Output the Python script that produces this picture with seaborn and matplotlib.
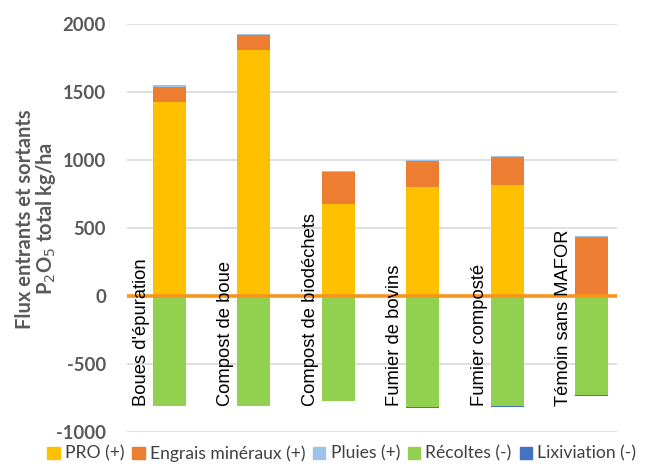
import numpy as np
import pandas as pd
import matplotlib
matplotlib.use("Agg")
import matplotlib.pyplot as plt
import seaborn as sns
from matplotlib.patches import Patch

# Data (kg P2O5 / ha)
categories = ["Boues d'épuration", "Compost de boue", "Compost de biodéchets",
              "Fumier de bovins", "Fumier composté", "Témoin sans MAFOR"]
pro = [1430, 1810, 676, 805, 815, 0]
engrais = [110, 110, 236, 190, 205, 433]
pluies = [8, 8, 8, 8, 8, 8]
recoltes = [-810, -810, -770, -818, -812, -730]
lixiviation = [-2, -2, -2, -2, -2, -2]

colors = {"PRO (+)": "#FFC000", "Engrais minéraux (+)": "#ED7D31",
          "Pluies (+)": "#9DC3E6", "Récoltes (-)": "#92D050",
          "Lixiviation (-)": "#4472C4"}

sns.set_style("white")
plt.rcParams['font.family'] = ['Lato', 'DejaVu Sans']
plt.rcParams['axes.unicode_minus'] = False

df = pd.DataFrame({"cat": categories, "pro": pro, "engrais": engrais,
                   "pluies": pluies, "recoltes": recoltes, "lix": lixiviation})
df["b_engrais"] = df["pro"]
df["b_pluies"] = df["pro"] + df["engrais"]

fig = plt.figure(figsize=(6.51, 4.71), dpi=100)
ax = fig.add_axes([0.195, 0.0828, 0.753, 0.8662])

w = 0.39
kw = dict(width=w, saturation=1, ax=ax, zorder=3, linewidth=0)
sns.barplot(data=df, x="cat", y="pro", color=colors["PRO (+)"], **kw)
sns.barplot(data=df, x="cat", y="engrais", bottom=df["b_engrais"],
            color=colors["Engrais minéraux (+)"], **kw)
sns.barplot(data=df, x="cat", y="pluies", bottom=df["b_pluies"],
            color=colors["Pluies (+)"], **kw)
sns.barplot(data=df, x="cat", y="recoltes", color=colors["Récoltes (-)"], **kw)
sns.barplot(data=df, x="cat", y="lix", bottom=df["recoltes"],
            color=colors["Lixiviation (-)"], **kw)

ax.axhline(0, color="#F7941D", lw=2.6, zorder=4)

# category names written vertically beside each bar
for i, name in enumerate(categories):
    ax.text(i - 0.33, -810, name, rotation=90, ha="center", va="bottom",
            fontsize=13.2, family="Liberation Sans", color="black", zorder=5)

ax.set_xlim(-0.5, 5.3)
ax.set_ylim(-1000, 2000)
ax.set_yticks(np.arange(-1000, 2001, 500))
ax.yaxis.grid(True, color="#D9D9D9", lw=1.2, zorder=0)
ax.set_xticks([])
ax.set_xlabel("")
ax.set_ylabel("")
for s in ax.spines.values():
    s.set_visible(False)
ax.tick_params(axis="y", length=0, pad=15, labelsize=13.3, labelcolor="#595959")
for t in ax.get_yticklabels():
    t.set_fontweight("bold")

fig.text(0.038, 0.535, "Flux entrants et sortants", rotation=90, ha="center",
         va="center", fontsize=14.5, fontweight="bold", color="#595959")
fig.text(0.07, 0.535, "P$_2$O$_5$ total kg/ha", rotation=90, ha="center",
         va="center", fontsize=14.5, fontweight="bold", color="#595959")

handles = [Patch(color=c, label=l) for l, c in colors.items()]
fig.legend(handles=handles, loc="lower center", bbox_to_anchor=(0.525, -0.014),
           ncol=5, frameon=False, fontsize=12.6, handlelength=0.7, handleheight=0.7,
           handletextpad=0.3, columnspacing=0.45, labelcolor="#404040")

fig.savefig("out.png", dpi=100)
